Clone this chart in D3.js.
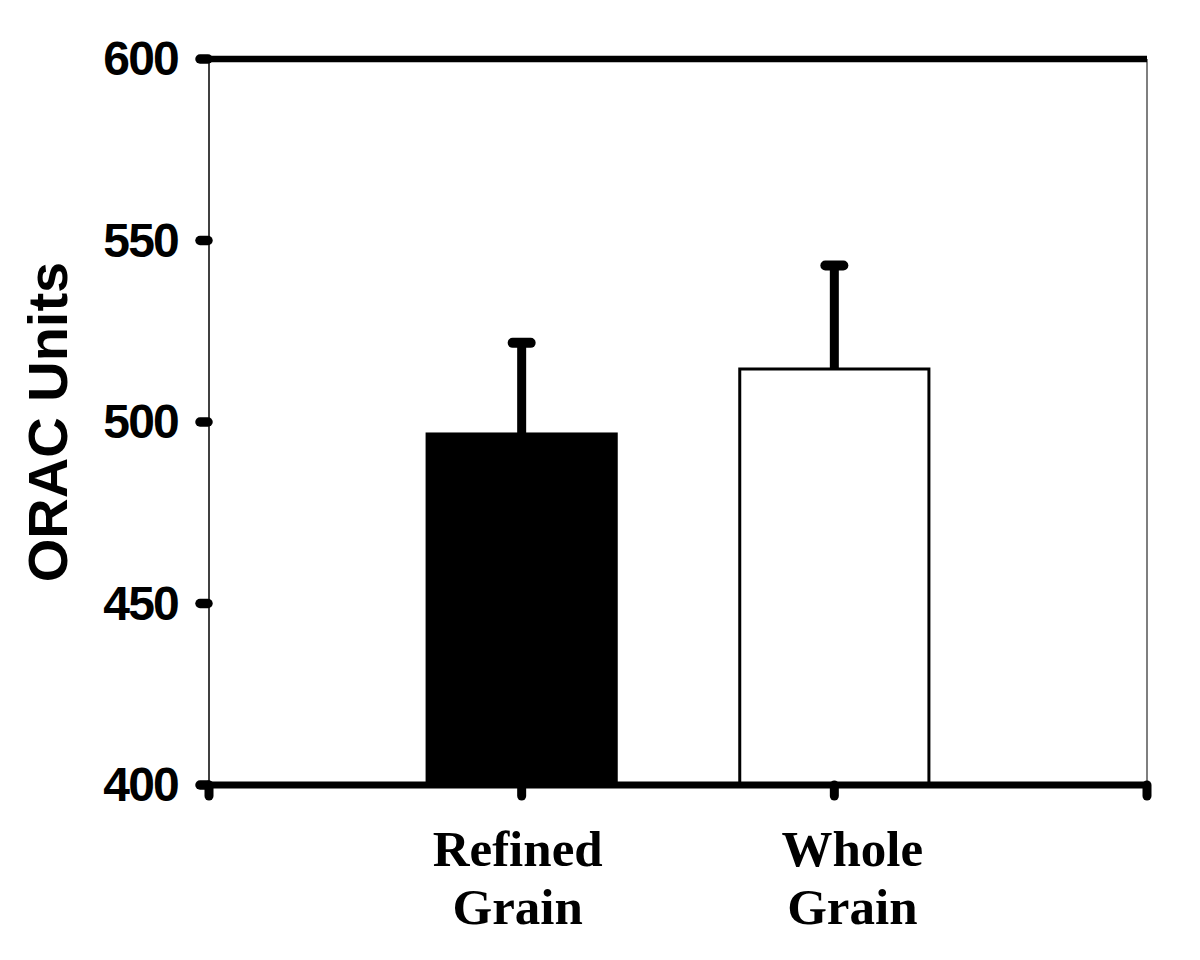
<!DOCTYPE html>
<html>
<head>
<meta charset="utf-8">
<script src="https://cdn.jsdelivr.net/npm/d3@7"></script>
<style>
  body { margin: 0; background: #fff; }
</style>
</head>
<body>
<svg id="chart"></svg>
<script>
// values
var groups = ["Refined Grain", "Whole Grain"];
var labelLines = [["Refined", "Grain"], ["Whole", "Grain"]];
var means = [496.7, 514.6];
var errors = [25.1, 28.5];
var fills = ["#000000", "#ffffff"];
var yTicks = [400, 450, 500, 550, 600];

var width = 1200,
    height = 960;

var plotLeft = 209, plotRight = 1147, plotTop = 59, plotBottom = 785;

var svg = d3.select("#chart")
  .attr("width", width)
  .attr("height", height);

var x = d3.scalePoint()
  .domain(groups)
  .range([plotLeft, plotRight])
  .padding(1);

var y = d3.scaleLinear()
  .domain([400, 600])
  .range([plotBottom, plotTop]);

var barW = x.step() * 0.605;

var data = groups.map(function(g, i) {
  return {name: g, lines: labelLines[i], mean: means[i], err: errors[i], fill: fills[i]};
});

// frame: thin left + right, thick top
svg.append("line")
  .attr("x1", plotLeft).attr("x2", plotLeft)
  .attr("y1", plotTop).attr("y2", plotBottom)
  .attr("stroke", "#000").attr("stroke-width", 1.5);
svg.append("line")
  .attr("x1", plotRight).attr("x2", plotRight)
  .attr("y1", plotTop).attr("y2", plotBottom)
  .attr("stroke", "#555").attr("stroke-width", 1.5);
svg.append("line")
  .attr("x1", plotLeft).attr("x2", plotRight)
  .attr("y1", y(600)).attr("y2", y(600))
  .attr("stroke", "#000").attr("stroke-width", 6.5);

// error bars (drawn under the bars)
svg.selectAll(".err")
  .data(data)
  .enter()
  .append("line")
  .attr("x1", function(d) { return x(d.name); })
  .attr("x2", function(d) { return x(d.name); })
  .attr("y1", function(d) { return y(d.mean); })
  .attr("y2", function(d) { return y(d.mean + d.err); })
  .attr("stroke", "#000").attr("stroke-width", 9)
  .attr("stroke-linecap", "round");

svg.selectAll(".cap")
  .data(data)
  .enter()
  .append("line")
  .attr("x1", function(d) { return x(d.name) - 9; })
  .attr("x2", function(d) { return x(d.name) + 9; })
  .attr("y1", function(d) { return y(d.mean + d.err); })
  .attr("y2", function(d) { return y(d.mean + d.err); })
  .attr("stroke", "#000").attr("stroke-width", 10)
  .attr("stroke-linecap", "round");

// bars
svg.selectAll(".bar")
  .data(data)
  .enter()
  .append("rect")
  .attr("x", function(d) { return x(d.name) - barW / 2; })
  .attr("width", barW)
  .attr("y", function(d) { return y(d.mean); })
  .attr("height", function(d) { return y(400) - y(d.mean); })
  .attr("fill", function(d) { return d.fill; })
  .attr("stroke", "#000").attr("stroke-width", 3);

// bottom axis line
svg.append("line")
  .attr("x1", plotLeft - 2).attr("x2", plotRight)
  .attr("y1", plotBottom).attr("y2", plotBottom)
  .attr("stroke", "#000").attr("stroke-width", 7);

// x ticks: axis ends plus each group
var xTickPos = [plotLeft].concat(groups.map(function(g) { return x(g); })).concat([plotRight]);
svg.selectAll(".xtick")
  .data(xTickPos)
  .enter()
  .append("line")
  .attr("x1", function(d) { return d; })
  .attr("x2", function(d) { return d; })
  .attr("y1", plotBottom)
  .attr("y2", plotBottom + 11)
  .attr("stroke", "#000").attr("stroke-width", 9)
  .attr("stroke-linecap", "round");

// y ticks
svg.selectAll(".ytick")
  .data(yTicks)
  .enter()
  .append("line")
  .attr("x1", plotLeft - 9)
  .attr("x2", plotLeft - 1)
  .attr("y1", function(d) { return y(d); })
  .attr("y2", function(d) { return y(d); })
  .attr("stroke", "#000").attr("stroke-width", 9.5)
  .attr("stroke-linecap", "round");

svg.selectAll(".ylab")
  .data(yTicks)
  .enter()
  .append("text")
  .attr("x", 178)
  .attr("y", function(d) { return y(d) - 1; })
  .attr("dy", "0.36em")
  .attr("text-anchor", "end")
  .style("font-family", "'Liberation Sans', Arial, sans-serif")
  .style("font-weight", "bold")
  .style("font-size", "48px")
  .style("letter-spacing", "-1.8px")
  .text(function(d) { return d; });

// y title
svg.append("text")
  .attr("transform", "translate(67," + y(500) + ") rotate(-90)")
  .attr("text-anchor", "middle")
  .style("font-family", "'Liberation Sans', Arial, sans-serif")
  .style("font-weight", "bold")
  .style("font-size", "56px")
  .text("ORAC Units");

// x labels (two lines, serif bold)
var labelShift = [-4, 18];
var xl = svg.selectAll(".xlab")
  .data(data)
  .enter()
  .append("text")
  .attr("text-anchor", "middle")
  .style("font-family", "'Liberation Serif', 'Times New Roman', serif")
  .style("font-weight", "bold")
  .style("font-size", "51px");

xl.selectAll("tspan")
  .data(function(d, i) { return d.lines.map(function(t) { return {t: t, cx: x(d.name) + labelShift[i]}; }); })
  .enter()
  .append("tspan")
  .attr("x", function(d) { return d.cx; })
  .attr("y", function(d, j) { return 866 + j * 58; })
  .text(function(d) { return d.t; });
</script>
</body>
</html>
